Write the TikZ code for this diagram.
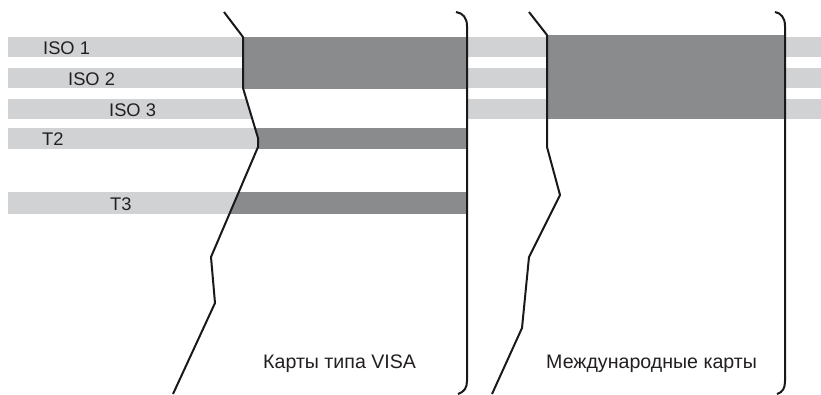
\documentclass[tikz,border=0pt]{standalone}
\usepackage{fontspec}
\setmainfont{Liberation Sans}
\definecolor{bandlight}{HTML}{D1D2D4}
\definecolor{banddark}{HTML}{8A8B8D}
\definecolor{inkcol}{HTML}{231F20}
\begin{document}
\begin{tikzpicture}[x=1pt,y=-1pt,
  trackname/.style={anchor=base west,inner sep=0pt,text=inkcol,font=\fontsize{18.3}{20}\selectfont},
  cardname/.style={anchor=base west,inner sep=0pt,text=inkcol,font=\fontsize{19.6}{22}\selectfont},
  outline/.style={line width=2pt,black!90,line join=round}]
\useasboundingbox (0,0) rectangle (821,394);

% ISO tracks run across the whole width
\foreach \ya/\yb in {37/57,68/88,99/119}
  \fill[bandlight] (8,\ya) rectangle (821,\yb);
% T2 and T3 tracks stop at the VISA-type card
\foreach \ya/\yb in {128/149,192/214}
  \fill[bandlight] (8,\ya) rectangle (467,\yb);

% card outlines as reusable paths
\def\cardA{(224,12) -- (243,37) -- (243,88) -- (258,138) -- (258,147) -- (211,257) -- (215,303) -- (173,394)
  -- (458,394) .. controls (464,392) and (467,388) .. (467,381) -- (467,26)
  .. controls (467,18) and (463,13) .. (456,12) -- cycle}
\def\cardB{(529,12) -- (547,35) -- (547,147) -- (560,195) -- (529,257) -- (522,328) -- (492,394)
  -- (777,394) .. controls (783,392) and (785,388) .. (785,381) -- (785,26)
  .. controls (785,18) and (781,13) .. (775,12) -- cycle}

% card bodies hide the tracks
\fill[white] \cardA;
\fill[white] \cardB;

% tracks used on the VISA-type card
\begin{scope}
  \clip \cardA;
  \fill[banddark] (200,37) rectangle (467,89);
  \fill[banddark] (200,128) rectangle (467,149);
  \fill[banddark] (200,192) rectangle (467,214);
\end{scope}
% tracks used on the international card
\begin{scope}
  \clip \cardB;
  \fill[banddark] (500,35) rectangle (785,119);
\end{scope}

% card edges
\draw[outline] (224,12) -- (243,37) -- (243,88) -- (258,138) -- (258,147) -- (211,257) -- (215,303) -- (173,394);
\draw[outline] (456,12) .. controls (463,13) and (467,18) .. (467,26) -- (467,381)
  .. controls (467,388) and (464,392) .. (458,394);
\draw[outline] (529,12) -- (547,35) -- (547,147) -- (560,195) -- (529,257) -- (522,328) -- (492,394);
\draw[outline] (775,12) .. controls (781,13) and (785,18) .. (785,26) -- (785,381)
  .. controls (785,388) and (783,392) .. (777,394);

% track labels
\node[trackname] (iso1) at (43,54) {ISO 1};
\node[trackname] (iso2) at (68,85) {ISO 2};
\node[trackname] (iso3) at (109,116) {ISO 3};
\node[trackname] (t2) at (42,145) {T2};
\node[trackname] (t3) at (110,210) {T3};

% card labels
\node[cardname] (visa) at (263,368) {Карты типа VISA};
\node[cardname] (intl) at (546,368) {Международные карты};
\end{tikzpicture}
\end{document}
